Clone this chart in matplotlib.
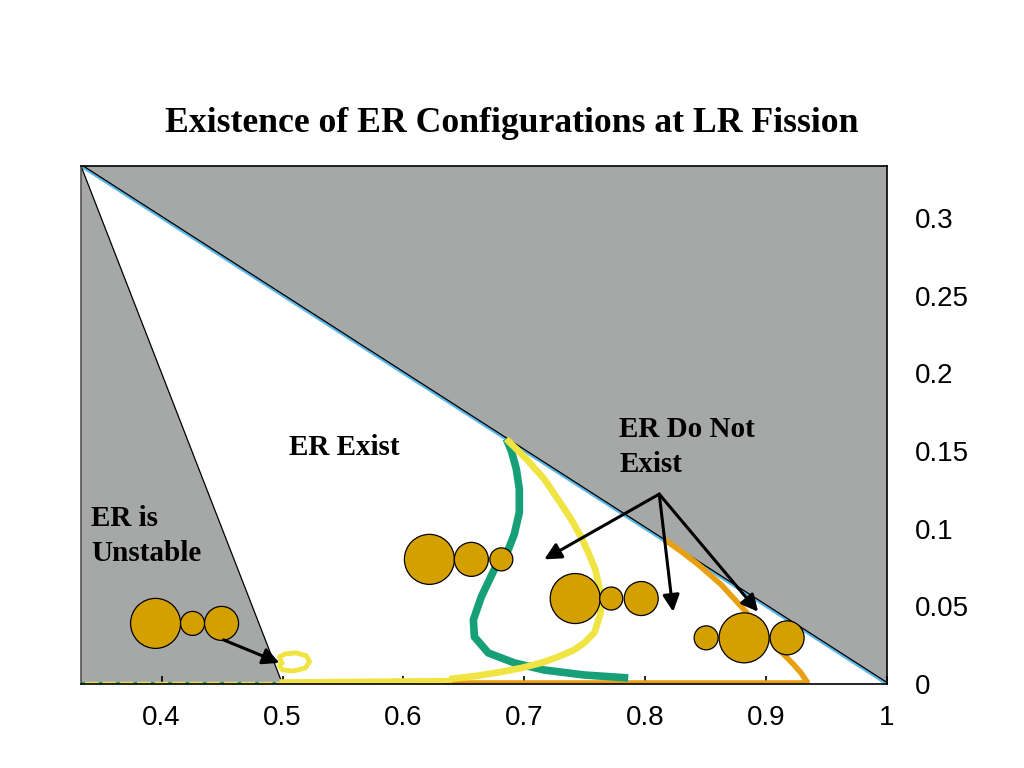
import numpy as np
import matplotlib
matplotlib.use("Agg")
import matplotlib.pyplot as plt
import matplotlib.transforms as mtransforms

# ---------------- data ----------------
x_ticks = [0.4, 0.5, 0.6, 0.7, 0.8, 0.9, 1.0]
x_tick_labels = ["0.4", "0.5", "0.6", "0.7", "0.8", "0.9", "1"]
y_ticks = [0, 0.05, 0.1, 0.15, 0.2, 0.25, 0.3]
y_tick_labels = ["0", "0.05", "0.1", "0.15", "0.2", "0.25", "0.3"]

# boundaries
upper_line_x = [1/3, 1.0]
upper_line_y = [1/3, 0.0]
left_line_x = [1/3, 0.5]
left_line_y = [1/3, 0.0]

# green curve
green_x = [0.6851, 0.6893, 0.6934, 0.6959, 0.6959, 0.6917, 0.6868, 0.6752, 0.6645,
           0.6579, 0.6587, 0.6702, 0.6917, 0.7165, 0.7496, 0.7860]
green_y = [0.1577, 0.1500, 0.1383, 0.1254, 0.1105, 0.0963, 0.0866, 0.0737, 0.0562,
           0.0414, 0.0304, 0.0200, 0.0136, 0.0090, 0.0058, 0.0039]

# yellow curve
yellow_x = [0.6851, 0.7017, 0.7165, 0.7289, 0.7388, 0.7471, 0.7529, 0.7587, 0.7620,
            0.7636, 0.7628, 0.7579, 0.7496, 0.7413, 0.7281, 0.7140, 0.6975, 0.6810,
            0.6603, 0.6380]
yellow_y = [0.1577, 0.1448, 0.1319, 0.1176, 0.1060, 0.0944, 0.0847, 0.0737, 0.0627,
            0.0524, 0.0446, 0.0330, 0.0265, 0.0220, 0.0175, 0.0136, 0.0103, 0.0078,
            0.0052, 0.0032]
yellow_base_x = [0.500, 0.638]
yellow_base_y = [0.0013, 0.0022]

# yellow loop near x = 0.5
loop_x = [0.4992, 0.4975, 0.5025, 0.5116, 0.5198, 0.5223, 0.5190, 0.5091, 0.5000, 0.4975, 0.4992]
loop_y = [0.0136, 0.0175, 0.0194, 0.0200, 0.0181, 0.0142, 0.0103, 0.0084, 0.0090, 0.0116, 0.0136]

# orange curve
orange_x = [0.8157, 0.8298, 0.8438, 0.8628, 0.8818, 0.8975, 0.9124, 0.9231, 0.9289, 0.9339]
orange_y = [0.0931, 0.0853, 0.0769, 0.0640, 0.0478, 0.0336, 0.0207, 0.0123, 0.0071, 0.0013]
orange_base_x = [0.6355, 0.9339]
orange_base_y = [0.0006, 0.0006]

# left base dotted line
left_base_x = [1/3, 0.5]
left_base_y = [0.0005, 0.0005]

# molecule circles (center x, center y, radius in pixels)
mol_x = [0.395, 0.4256, 0.4496,
         0.6215, 0.6562, 0.681,
         0.7421, 0.7719, 0.7967,
         0.8504, 0.8818, 0.9174]
mol_y = [0.039, 0.039, 0.039,
         0.0802, 0.0802, 0.0802,
         0.055, 0.055, 0.055,
         0.0297, 0.0297, 0.0297]
mol_r_px = [25, 12, 17,
            25, 17, 11.5,
            25, 11.5, 17,
            12, 25, 17]

# arrows
arrow_unstable = ((0.4512, 0.0284), (0.4975, 0.0136))
arrow_origin = (0.8116, 0.1222)
arrow_tips = [(0.7165, 0.0802), (0.8231, 0.0465), (0.8934, 0.0465)]

# ---------------- figure ----------------
fig = plt.figure(figsize=(10.24, 7.68), dpi=100)
ax = fig.add_axes([81/1024, 1 - 684/768, (887 - 81)/1024, (684 - 166)/768])
ax.set_xlim(1/3, 1.0)
ax.set_ylim(0, 1/3)

gray = "#A5A8A7"
ax.fill([1/3, 1.0, 1.0, 1/3], [1/3, 0.0, 1/3, 1/3], color=gray, zorder=1, lw=0)
ax.fill([1/3, 0.5, 1/3], [1/3, 0.0, 0.0], color=gray, zorder=1, lw=0)

# boundary lines
ax.plot(upper_line_x, upper_line_y, color="#5BB5E5", lw=2.2, zorder=2, solid_capstyle="butt")
off = mtransforms.offset_copy(ax.transData, fig=fig, x=0, y=1.5, units="dots")
ax.plot(upper_line_x, upper_line_y, color="black", lw=0.9, zorder=2.1, transform=off)
ax.plot(left_line_x, left_line_y, color="black", lw=0.9, zorder=2.1)

# curves
ax.plot(left_base_x, left_base_y, color="#E8E04A", lw=2.5, zorder=3)
ax.plot(left_base_x, left_base_y, color="#1A9E77", lw=2.5, zorder=3.1, ls=(0, (1, 4)))
ax.plot(orange_base_x, orange_base_y, color="#E8A010", lw=4, zorder=3)
ax.plot(yellow_base_x, yellow_base_y, color="#F0E442", lw=4, zorder=3.2)
ax.plot(green_x, green_y, color="#17A077", lw=5.5, zorder=4, solid_capstyle="butt")
ax.plot(yellow_x, yellow_y, color="#F0E442", lw=4.8, zorder=4.2, solid_capstyle="butt")
ax.plot(loop_x, loop_y, color="#F0E442", lw=3.5, zorder=4.2)
ax.plot(orange_x, orange_y, color="#E8A010", lw=4, zorder=4, solid_capstyle="butt")

# molecules
sizes = [(2 * r * 0.72) ** 2 for r in mol_r_px]
ax.scatter(mol_x, mol_y, s=sizes, facecolor="#D4A000", edgecolor="black",
           linewidth=0.9, zorder=6, clip_on=False)

# arrows
akw = dict(arrowstyle="-|>,head_length=1.0,head_width=0.5", color="black", lw=2.2,
           shrinkA=0, shrinkB=0)
ax.annotate("", xy=arrow_unstable[1], xytext=arrow_unstable[0], arrowprops=akw, zorder=7)
for tip in arrow_tips:
    ax.annotate("", xy=tip, xytext=arrow_origin, arrowprops=akw, zorder=7)

# texts
tfont = dict(family="Liberation Serif", weight="bold", color="black")
ax.text(0.505, 0.152, "ER Exist", fontsize=21, ha="left", va="center", zorder=8, **tfont)
ax.text(0.342, 0.0955, "ER is\nUnstable", fontsize=21, ha="left", va="center",
        linespacing=1.38, zorder=8, **tfont)
ax.text(0.7785, 0.1522, "ER Do Not\nExist", fontsize=21, ha="left", va="center",
        linespacing=1.38, zorder=8, **tfont)

fig.text(0.5, 1 - 124/768, "Existence of ER Configurations at LR Fission", ha="center",
         va="center", fontsize=25.7, **tfont)

# axes styling
for s in ax.spines.values():
    s.set_linewidth(1.2)
    s.set_color("black")
    s.set_zorder(9)
ax.spines["left"].set_color("#555555")
ax.set_xticks(x_ticks)
ax.set_xticklabels(x_tick_labels, family="Liberation Sans", fontsize=20)
ax.yaxis.tick_right()
ax.set_yticks(y_ticks)
ax.set_yticklabels(y_tick_labels, family="Liberation Sans", fontsize=20)
ax.tick_params(axis="x", direction="in", length=6, width=1.2, pad=15)
ax.tick_params(axis="y", direction="in", length=0, pad=20)
for lbl in ax.get_yticklabels():
    lbl.set_horizontalalignment("left")

fig.savefig("out.png", dpi=100)
